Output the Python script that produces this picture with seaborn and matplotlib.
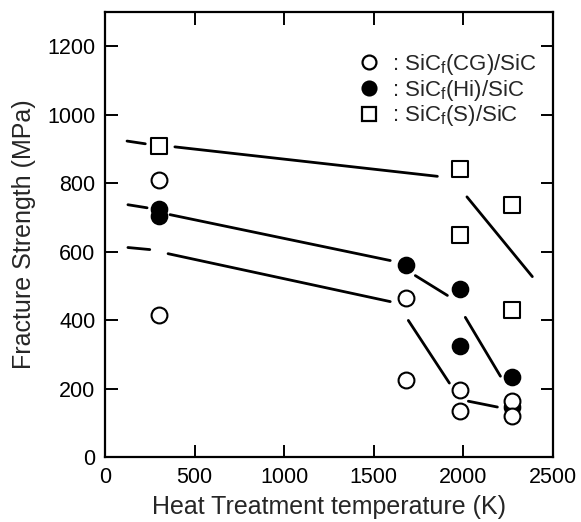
import matplotlib
matplotlib.use("Agg")
import matplotlib.pyplot as plt
import seaborn as sns
import pandas as pd

# measured points, temperature (K) and strength (MPa)
cg_temp = [300, 300, 1680, 1680, 1980, 1980, 2270, 2270]
cg_strength = [810, 415, 465, 225, 195, 135, 165, 120]
hi_temp = [300, 300, 1680, 1980, 1980, 2270, 2270]
hi_strength = [725, 705, 560, 490, 325, 235, 145]
s_temp = [300, 1980, 1980, 2270, 2270]
s_strength = [910, 840, 650, 735, 430]

# hand drawn trend lines (broken into pieces like the original)
cg_line_x = [[128, 250], [352, 1592], [1693, 1922], [2028, 2190]]
cg_line_y = [[612, 606], [594, 454], [399, 216], [163, 146]]
hi_line_x = [[128, 235], [363, 1592], [1732, 1911], [2011, 2207]]
hi_line_y = [[737, 728], [708, 574], [530, 472], [408, 236]]
s_line_x = [[123, 225], [390, 1855], [2020, 2385]]
s_line_y = [[923, 915], [906, 820], [760, 527]]

labels = [': SiC$_{\\rm f}$(CG)/SiC', ': SiC$_{\\rm f}$(Hi)/SiC', ': SiC$_{\\rm f}$(S)/SiC']

sns.set_style("ticks")
plt.rcParams['font.family'] = ['Liberation Sans', 'DejaVu Sans']
plt.rcParams['mathtext.fontset'] = 'custom'
plt.rcParams['mathtext.rm'] = 'Liberation Sans'

rows = []
n = 0
for xs, ys in [(cg_line_x, cg_line_y), (hi_line_x, hi_line_y), (s_line_x, s_line_y)]:
    for sx, sy in zip(xs, ys):
        for a, b in zip(sx, sy):
            rows.append({'x': a, 'y': b, 'seg': n})
        n += 1
lines = pd.DataFrame(rows)

fig = plt.figure(figsize=(5.81, 5.22), dpi=100)
ax = fig.add_axes([0.1807, 0.1245, 0.771, 0.8525])

sns.lineplot(data=lines, x='x', y='y', units='seg', estimator=None, sort=False,
             color='black', linewidth=2.0, ax=ax, legend=False)

ms = 130
sns.scatterplot(x=hi_temp, y=hi_strength, marker='o', s=ms, color='black',
                edgecolor='black', linewidth=1.3, ax=ax, zorder=3)
sns.scatterplot(x=cg_temp, y=cg_strength, marker='o', s=ms, facecolor='white',
                edgecolor='black', linewidth=1.5, ax=ax, zorder=4)
sns.scatterplot(x=s_temp, y=s_strength, marker='s', s=ms, facecolor='white',
                edgecolor='black', linewidth=1.5, ax=ax, zorder=4)

h_cg = plt.Line2D([], [], marker='o', ls='', ms=10, mfc='white', mec='black', mew=1.6)
h_hi = plt.Line2D([], [], marker='o', ls='', ms=10, mfc='black', mec='black', mew=1.6)
h_s = plt.Line2D([], [], marker='s', ls='', ms=10, mfc='white', mec='black', mew=1.6)
ax.legend([h_cg, h_hi, h_s], labels, loc='upper left', frameon=False,
          fontsize=16, handletextpad=0.45, labelspacing=0.03, handlelength=1.2,
          bbox_to_anchor=(0.54, 0.93), borderaxespad=0)

ax.set_xlim(0, 2500)
ax.set_ylim(0, 1300)
ax.set_xticks([0, 500, 1000, 1500, 2000, 2500])
ax.set_yticks([0, 200, 400, 600, 800, 1000, 1200])
ax.tick_params(direction='in', length=9, width=1.4, top=True, right=True,
               labelsize=15.5, pad=7, colors='black')
for sp in ax.spines.values():
    sp.set_linewidth(1.6)
    sp.set_color('black')
ax.set_xlabel('Heat Treatment temperature (K)', fontsize=18, labelpad=5)
ax.set_ylabel('Fracture Strength (MPa)', fontsize=18, labelpad=8)

fig.savefig('out.png', dpi=100)
